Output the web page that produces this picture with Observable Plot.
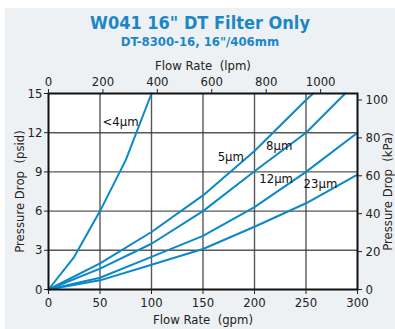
<!DOCTYPE html>
<html>
<head>
<meta charset="utf-8">
<script src="https://cdn.jsdelivr.net/npm/d3@7"></script>
<script src="https://cdn.jsdelivr.net/npm/@observablehq/plot@0.6"></script>
<style>
  html, body { margin: 0; padding: 0; background: #ffffff; }
  #wrap { position: relative; width: 395px; height: 329px; overflow: hidden; }
  #bg { position: absolute; left: 5px; top: 8px; width: 390px; height: 321px; background: #eef1f3; }
  #chart { position: absolute; left: 0; top: 0; }
</style>
</head>
<body>
<div id="wrap"><div id="bg"></div><div id="chart"></div></div>
<script>
// ---- data ----
const seriesNames = ["<4μm", "5μm", "8μm", "12μm", "23μm"];
const flowLt4 = [0, 25, 50, 75, 100];
const psidLt4 = [0, 2.5, 6.0, 9.9, 15];
const flow5 = [0, 50, 100, 150, 200, 250, 257];
const psid5 = [0, 2.0, 4.4, 7.2, 10.6, 14.5, 15];
const flow8 = [0, 50, 100, 150, 200, 250, 288];
const psid8 = [0, 1.6, 3.5, 6.0, 9.05, 12.0, 15];
const flow12 = [0, 50, 100, 150, 200, 250, 300];
const psid12 = [0, 0.9, 2.5, 4.1, 6.3, 9.0, 12.0];
const flow23 = [0, 50, 100, 150, 200, 250, 300];
const psid23 = [0, 0.7, 1.9, 3.1, 4.8, 6.6, 8.8];

const gpmTicks = [0, 50, 100, 150, 200, 250, 300];
const psidTicks = [0, 3, 6, 9, 12, 15];
const lpmTicks = ["0", "200", "400", "600", "800", "1000"];
const kpaTicks = ["0", "20", "40", "60", "80", "100"];

const labelText = ["<4μm", "5μm", "8μm", "12μm", "23μm"];
const labelFlow = [70, 177, 224, 221, 264];
const labelPsid = [12.85, 10.15, 11.0, 8.46, 8.08];

const titleText = "W041 16\" DT Filter Only";
const subtitleText = "DT-8300-16, 16\"/406mm";
const topAxisLabel = "Flow Rate  (lpm)";
const bottomAxisLabel = "Flow Rate  (gpm)";
const leftAxisLabel = "Pressure Drop  (psid)";
const rightAxisLabel = "Pressure Drop  (kPa)";

const LPM_PER_GPM = 3.785;
const KPA_PER_PSI = 6.895;

// ---- build table ----
const flows = [flowLt4, flow5, flow8, flow12, flow23];
const psids = [psidLt4, psid5, psid8, psid12, psid23];
const rows = [];
seriesNames.forEach((s, k) => flows[k].forEach((f, i) => rows.push({series: s, gpm: f, psid: psids[k][i]})));
const labels = labelText.map((t, i) => ({t, gpm: labelFlow[i], psid: labelPsid[i]}));

const blue = "#0a88c9";
const font = "'Liberation Sans Narrow', 'DejaVu Sans Condensed', 'Arial Narrow', sans-serif";

const chart = Plot.plot({
  width: 395,
  height: 329,
  marginLeft: 48,
  marginRight: 38,
  marginTop: 93,
  marginBottom: 40,
  style: {background: "transparent", fontFamily: font, fontSize: "13px", color: "#222", overflow: "visible"},
  x: {domain: [0, 300]},
  y: {domain: [0, 15]},
  marks: [
    Plot.frame({fill: "white", stroke: null}),
    Plot.gridX([50, 100, 150, 200, 250], {stroke: "#3a3a3a", strokeOpacity: 0.85, strokeWidth: 1.4}),
    Plot.gridY([3, 6, 9, 12], {stroke: "#3a3a3a", strokeOpacity: 0.85, strokeWidth: 1.4}),
    Plot.line(rows, {x: "gpm", y: "psid", z: "series", stroke: blue, strokeWidth: 2, curve: "linear"}),
    Plot.frame({stroke: "#111", strokeWidth: 2}),
    Plot.axisX(gpmTicks, {anchor: "bottom", tickSize: 5, tickPadding: 3, fontSize: 13, label: bottomAxisLabel, labelAnchor: "center", labelOffset: 34, labelArrow: "none"}),
    Plot.axisX(lpmTicks.map(l => +l / LPM_PER_GPM), {anchor: "top", tickSize: 5, tickPadding: 3, fontSize: 13, tickFormat: (d, i) => lpmTicks[i], label: topAxisLabel, labelAnchor: "center", labelOffset: 33, labelArrow: "none"}),
    Plot.axisY(psidTicks, {anchor: "left", tickSize: 4, tickPadding: 2, fontSize: 13, label: leftAxisLabel, labelAnchor: "center", labelOffset: 34, labelArrow: "none"}),
    Plot.axisY(kpaTicks.map(k => +k / KPA_PER_PSI), {anchor: "right", tickSize: 4, tickPadding: 4, fontSize: 13, tickFormat: (d, i) => kpaTicks[i], label: rightAxisLabel, labelAnchor: "center", labelOffset: 34, labelArrow: "none"}),
    Plot.text(labels, {x: "gpm", y: "psid", text: "t", fontSize: 13, fill: "#111"})
  ]
});
document.getElementById("chart").appendChild(chart);

const svg = d3.select(chart);
svg.append("text").text(titleText)
  .attr("x", 200).attr("y", 29).attr("text-anchor", "middle")
  .attr("font-family", font).attr("font-weight", "bold").attr("font-size", 18).attr("fill", "#1b87c6");
svg.append("text").text(subtitleText)
  .attr("x", 200).attr("y", 46).attr("text-anchor", "middle")
  .attr("font-family", font).attr("font-weight", "bold").attr("font-size", 13).attr("fill", "#1b87c6");
</script>
</body>
</html>
